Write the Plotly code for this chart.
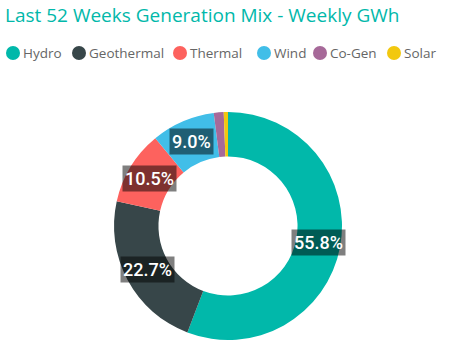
import math
import plotly.graph_objects as go

labels = ["Hydro", "Geothermal", "Thermal", "Wind", "Co-Gen", "Solar"]
values = [55.8, 22.7, 10.5, 9.0, 1.4, 0.6]
colors = ["#01B8AA", "#374649", "#FD625E", "#41BEE8", "#A66999", "#F2C80F"]
label_min = 5.0

W, H = 454, 352
ML, MR, MT, MB = 0, 0, 112, 12
cx_px, R = 228, 114
hole = 0.61
plot_w, plot_h = W - ML - MR, H - MT - MB

fig = go.Figure()
fig.add_trace(go.Pie(
    labels=labels, values=values, sort=False, direction="clockwise", rotation=0,
    hole=hole, marker=dict(colors=colors, line=dict(width=0)),
    textinfo="none", showlegend=False, hoverinfo="label+percent",
    domain=dict(x=[(cx_px - R) / W, (cx_px + R) / W], y=[0, 1]),
))

def px2paper(px, py):
    return (px - ML) / plot_w, (H - MB - py) / plot_h

# custom legend: circle + label
legend_x = [13, 79, 180, 264, 320, 394]   # circle centres (px)
legend_y = 53
for lab, col, lx in zip(labels, colors, legend_x):
    xp, yp = px2paper(lx, legend_y)
    fig.add_shape(type="circle", xref="paper", yref="paper",
                  xsizemode="pixel", ysizemode="pixel", xanchor=xp, yanchor=yp,
                  x0=-7, x1=7, y0=-7, y1=7, fillcolor=col, line=dict(width=0))
    tx, ty = px2paper(lx + 8, legend_y)
    fig.add_annotation(x=tx, y=ty, xref="paper", yref="paper", showarrow=False,
                       xanchor="left", yanchor="middle", text=lab,
                       font=dict(family="Open Sans", size=13.5, color="#666666"))

# percentage labels with dark boxes at ring middle
total = sum(values)
cum = 0.0
rmid = R * (1 + hole) / 2
cy_px = MT + plot_h / 2
for lab, v in zip(labels, values):
    mid = (cum + v / 2) / total * 2 * math.pi
    cum += v
    pct = v / total * 100
    if pct < label_min:
        continue
    xp, yp = px2paper(cx_px + rmid * math.sin(mid), cy_px - rmid * math.cos(mid))
    fig.add_annotation(
        x=xp, y=yp, xref="paper", yref="paper", showarrow=False,
        xanchor="center", yanchor="middle",
        text=f"{pct:.1f}%", font=dict(family="Roboto", size=18, color="white", weight=500),
        bgcolor="rgba(0,0,0,0.5)", borderpad=2,
    )

fig.update_layout(
    width=W, height=H, margin=dict(l=ML, r=MR, t=MT, b=MB, autoexpand=False),
    paper_bgcolor="white", plot_bgcolor="white", showlegend=False,
    title=dict(text="Last 52 Weeks Generation Mix - Weekly GWh",
               font=dict(family="Open Sans", size=19, color="#01B8AA"),
               x=5 / W, xanchor="left", y=1 - 15 / H, yanchor="middle"),
)
fig.write_html("out.html")
